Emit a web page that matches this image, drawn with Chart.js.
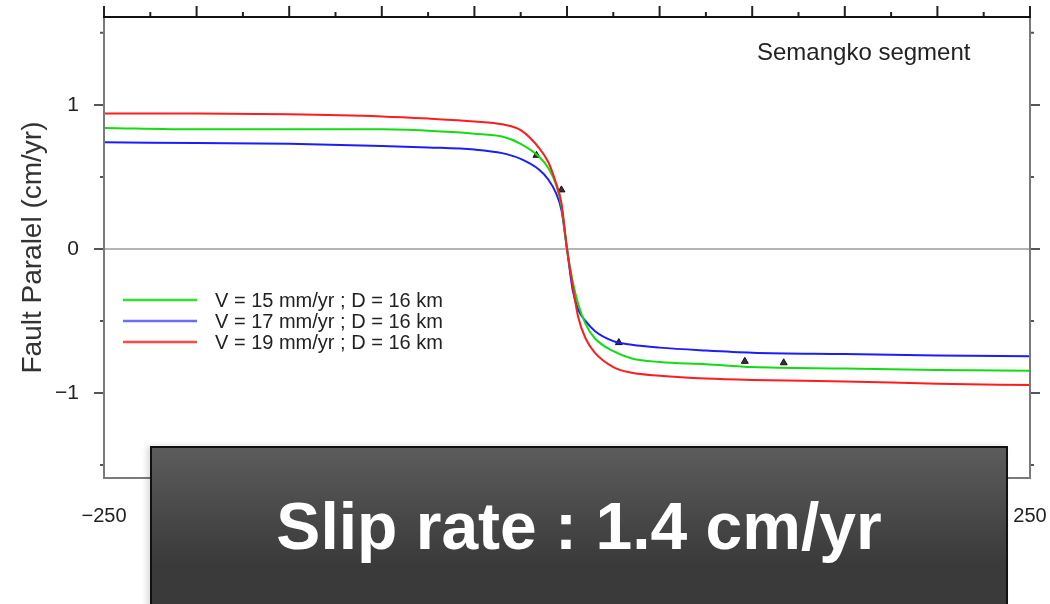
<!DOCTYPE html>
<html>
<head>
<meta charset="utf-8">
<script src="https://cdn.jsdelivr.net/npm/chart.js@4/dist/chart.umd.min.js"></script>
<style>
  body { margin: 0; background: #fff; }
  #wrap { position: relative; width: 1050px; height: 604px; overflow: hidden; }
  #slip {
    position: absolute; left: 150px; top: 446px; width: 858px; height: 170px;
    border: 2px solid #111;
    background: linear-gradient(#5c5c5c, #3a3a3a 70%);
    box-shadow: -3px 0 6px rgba(0,0,0,0.15);
    color: #fff; font: bold 66px "Liberation Sans", Arial, sans-serif;
    text-align: center; line-height: 66px; padding-top: 45px; box-sizing: border-box;
  }
</style>
</head>
<body>
<div id="wrap">
  <canvas id="faultChart" width="1050" height="604"></canvas>
  <div id="slip">Slip rate : 1.4 cm/yr</div>
</div>
<script>
const distanceKm = [-250, -200, -150, -100, -75, -50, -35, -25, -15, -10, -6, -3, 0, 3, 6, 10, 15, 25, 35, 50, 75, 100, 150, 200, 250];
const redV19 = [0.94, 0.94, 0.935, 0.92, 0.905, 0.885, 0.865, 0.825, 0.70, 0.60, 0.46, 0.32, 0.0, -0.25, -0.47, -0.62, -0.72, -0.82, -0.86, -0.88, -0.90, -0.91, -0.92, -0.935, -0.945];
const greenV15 = [0.84, 0.83, 0.83, 0.83, 0.82, 0.80, 0.78, 0.73, 0.64, 0.56, 0.45, 0.30, 0.0, -0.22, -0.38, -0.52, -0.62, -0.71, -0.76, -0.785, -0.80, -0.82, -0.83, -0.84, -0.845];
const blueV17 = [0.74, 0.735, 0.73, 0.715, 0.705, 0.69, 0.665, 0.625, 0.55, 0.48, 0.39, 0.27, 0.0, -0.28, -0.42, -0.50, -0.57, -0.64, -0.665, -0.685, -0.705, -0.72, -0.73, -0.74, -0.745];
const stationX = [-16.5, -3, 28, 96, 117];
const stationY = [0.65, 0.41, -0.65, -0.78, -0.79];
const legendLabels = ["V = 15 mm/yr ; D = 16 km", "V = 17 mm/yr ; D = 16 km", "V = 19 mm/yr ; D = 16 km"];
const xTickLabels = [-250, -200, -150, -100, -50, 0, 50, 100, 150, 200, 250];
const yTickLabels = [-1, 0, 1];

const font = '"Liberation Sans", Arial, sans-serif';
const colors = { red: "#ff1c1c", green: "#12dc12", blue: "#1c1cff" };
const legendColors = ["#2ee22e", "#6b6bff", "#ff4848"];

const toPoints = (ys) => ys.map((v, i) => ({ x: distanceKm[i], y: v }));
const minus = (v) => (v < 0 ? "\u2212" + Math.abs(v) : String(v));
const noPad = (s) => { s.paddingLeft = 0; s.paddingRight = 0; s.paddingTop = 0; s.paddingBottom = 0; };

const framePlugin = {
  id: "frame",
  beforeDatasetsDraw(chart) {
    const { ctx, chartArea: a, scales: { y } } = chart;
    const y0 = y.getPixelForValue(0);
    ctx.save();
    ctx.strokeStyle = "#b4b4b4";
    ctx.lineWidth = 2;
    ctx.beginPath();
    ctx.moveTo(a.left, y0);
    ctx.lineTo(a.right, y0);
    ctx.stroke();
    ctx.restore();
  },
  afterDraw(chart) {
    const { ctx, chartArea: a, scales: { x, y } } = chart;
    ctx.save();
    ctx.lineWidth = 2;

    // top ticks
    ctx.strokeStyle = "#222";
    for (let v = -250; v <= 250; v += 25) {
      const px = x.getPixelForValue(v);
      const len = v % 50 === 0 ? 11 : 5;
      ctx.beginPath();
      ctx.moveTo(px, a.top);
      ctx.lineTo(px, a.top - len);
      ctx.stroke();
    }
    // side ticks
    ctx.strokeStyle = "#555";
    for (let v = -1.5; v <= 1.5; v += 0.5) {
      const py = y.getPixelForValue(v);
      const len = Number.isInteger(v) ? 10 : 4;
      ctx.beginPath();
      ctx.moveTo(a.left - len, py);
      ctx.lineTo(a.left, py);
      ctx.moveTo(a.right, py);
      ctx.lineTo(a.right + len, py);
      ctx.stroke();
    }
    // frame
    ctx.strokeStyle = "#7a7a7a";
    ctx.beginPath();
    ctx.moveTo(a.left, a.top);
    ctx.lineTo(a.left, a.bottom);
    ctx.lineTo(a.right, a.bottom);
    ctx.lineTo(a.right, a.top);
    ctx.stroke();
    ctx.strokeStyle = "#111";
    ctx.beginPath();
    ctx.moveTo(a.left - 1, a.top);
    ctx.lineTo(a.right + 1, a.top);
    ctx.stroke();

    // legend
    ctx.lineWidth = 2.5;
    ctx.font = "20px " + font;
    ctx.textBaseline = "middle";
    ctx.fillStyle = "#222";
    legendLabels.forEach((label, i) => {
      const ly = 300 + i * 21;
      ctx.strokeStyle = legendColors[i];
      ctx.beginPath();
      ctx.moveTo(123, ly);
      ctx.lineTo(197, ly);
      ctx.stroke();
      ctx.fillText(label, 215, ly + 1);
    });

    // segment name
    ctx.font = "24px " + font;
    ctx.fillText("Semangko segment", 757, 53);
    ctx.restore();
  },
};

new Chart(document.getElementById("faultChart"), {
  type: "line",
  data: {
    datasets: [
      { label: "V = 19 mm/yr", data: toPoints(redV19), borderColor: colors.red },
      { label: "V = 15 mm/yr", data: toPoints(greenV15), borderColor: colors.green },
      { label: "V = 17 mm/yr", data: toPoints(blueV17), borderColor: colors.blue },
      {
        type: "scatter",
        label: "stations",
        data: stationX.map((v, i) => ({ x: v, y: stationY[i] })),
        pointStyle: "triangle",
        pointRadius: 4,
        backgroundColor: "#333",
        borderColor: "#111",
        borderWidth: 1,
      },
    ],
  },
  options: {
    responsive: false,
    animation: false,
    elements: {
      line: { borderWidth: 2, cubicInterpolationMode: "monotone", fill: false },
      point: { radius: 0 },
    },
    layout: { padding: { top: 17, right: 20, left: 0, bottom: 0 } },
    plugins: { legend: { display: false }, tooltip: { enabled: false } },
    scales: {
      x: {
        type: "linear",
        min: -250,
        max: 250,
        grid: { display: false, drawTicks: false },
        border: { display: false },
        afterFit: (s) => { s.height = 126; noPad(s); },
        ticks: {
          stepSize: 50,
          autoSkip: false,
          maxRotation: 0,
          padding: 26,
          color: "#222",
          font: { size: 20, family: font },
          callback: (v) => (xTickLabels.includes(v) ? minus(v) : ""),
        },
      },
      y: {
        min: -1.59,
        max: 1.61,
        grid: { display: false, drawTicks: false },
        border: { display: false },
        afterFit: (s) => { s.width = 104; noPad(s); },
        title: {
          display: true,
          text: "Fault Paralel (cm/yr)",
          color: "#333",
          font: { size: 28, family: font },
          padding: { top: 16, bottom: 0 },
        },
        ticks: {
          stepSize: 0.5,
          padding: 25,
          color: "#222",
          font: { size: 21, family: font },
          callback: (v) => (yTickLabels.includes(v) ? minus(v) : ""),
        },
      },
    },
  },
  plugins: [framePlugin],
});
</script>
</body>
</html>
